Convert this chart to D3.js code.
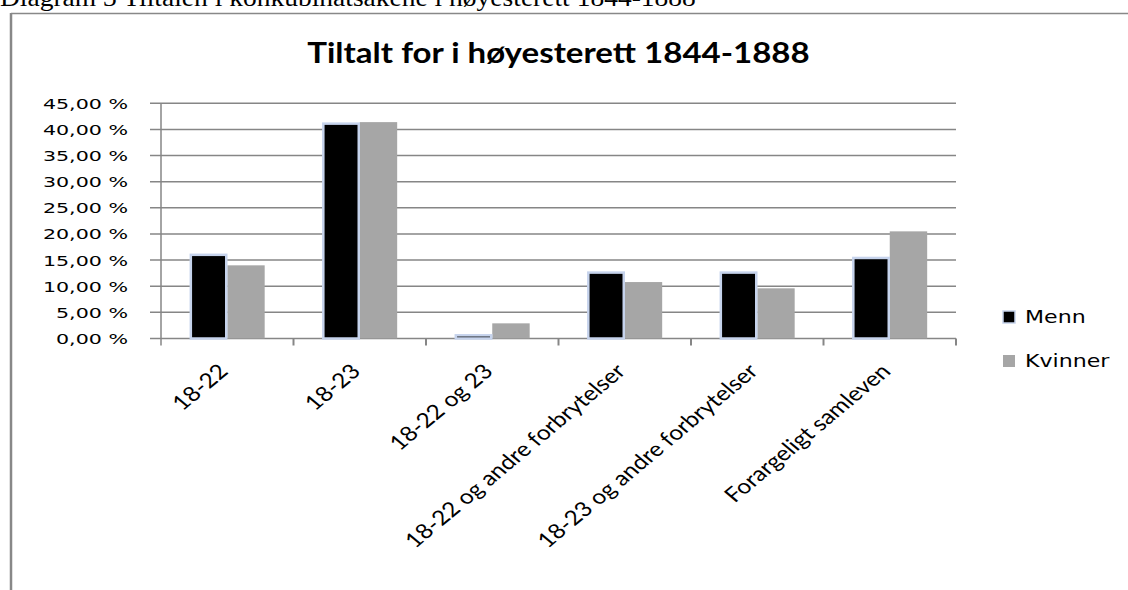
<!DOCTYPE html>
<html>
<head>
<meta charset="utf-8">
<script src="https://cdn.jsdelivr.net/npm/d3@7"></script>
<style>
    body { margin: 0; background: #fff; }
    svg { display: block; }
</style>
</head>
<body>
<div id="chart"></div>
<script>
// values
let categories = ["18-22", "18-23", "18-22 og 23", "18-22 og andre forbrytelser", "18-23 og andre forbrytelser", "Forargeligt samleven"];
let menn = [16.2, 41.3, 0.8, 12.8, 12.8, 15.6];
let kvinner = [14.0, 41.4, 2.9, 10.8, 9.6, 20.5];
let seriesNames = ["Menn", "Kvinner"];
let yTicks = [0, 5, 10, 15, 20, 25, 30, 35, 40, 45];

/** Grouped bar chart, Excel style (the pasted picture is stretched sideways). */
class BarChart {

    constructor() {
        this.width = 1128;
        this.height = 590;
        this.plot = { left: 161, right: 956, top: 103.3, bottom: 338.5 };
        this.drawChart();
    }

    // stretch a text horizontally, the reference text is wider than the plain fonts
    stretch(selection, factor) {
        selection.each(function() {
            d3.select(this).attr("textLength", this.getComputedTextLength() * factor).attr("lengthAdjust", "spacingAndGlyphs");
        });
    }

    drawChart() {
        let svg = d3.select("#chart").append("svg").attr("width", this.width).attr("height", this.height);
        let p = this.plot;

        // page caption above the frame, cut off at the top like in the document
        let caption = svg.append("text").attr("x", 0).attr("y", 6).text("Diagram 3 Tiltalen i konkubinatsakene i høyesterett 1844-1888")
            .style("font-family", "'Liberation Serif', serif").style("font-size", "25px").style("fill", "#000");
        this.stretch(caption, 1.1);

        // frame
        svg.append("line").attr("x1", 11).attr("x2", this.width).attr("y1", 13.5).attr("y2", 13.5).style("stroke", "#888").style("stroke-width", 1.5);
        svg.append("line").attr("x1", 11).attr("x2", 11).attr("y1", 13).attr("y2", this.height).style("stroke", "#888").style("stroke-width", 2.5);

        let title = svg.append("text").attr("x", (p.left + p.right) / 2).attr("y", 63).attr("text-anchor", "middle").text("Tiltalt for i høyesterett 1844-1888")
            .style("font-family", "Lato, sans-serif").style("font-weight", "bold").style("font-size", "28px").style("fill", "#000");
        this.stretch(title, 1.18);

        let x = d3.scaleBand().domain(categories).range([p.left, p.right]);
        let xInner = d3.scaleBand().domain(seriesNames).range([0, x.bandwidth()]).paddingOuter(0.77);
        let y = d3.scaleLinear().domain([0, 45]).range([p.bottom, p.top]);

        // gridlines and value labels
        let grid = svg.append("g");
        grid.selectAll("line").data(yTicks).join("line")
            .attr("x1", p.left - 11).attr("x2", p.right).attr("y1", d => y(d)).attr("y2", d => y(d))
            .style("stroke", "#868686").style("stroke-width", 1.5);

        let yLabels = svg.append("g").selectAll("text").data(yTicks).join("text")
            .attr("x", 128).attr("y", d => y(d) + 5.5).attr("text-anchor", "end")
            .text(d => d3.format(".2f")(d).replace(".", ",") + " %")
            .style("font-family", "'DejaVu Sans', sans-serif").style("font-size", "14.5px").style("fill", "#000");
        this.stretch(yLabels, 1.42);

        // axes lines
        svg.append("line").attr("x1", p.left).attr("x2", p.left).attr("y1", p.top).attr("y2", p.bottom + 7).style("stroke", "#868686").style("stroke-width", 1.5);
        let boundaries = categories.map(c => x(c)).concat([p.right]);
        svg.append("g").selectAll("line").data(boundaries.slice(1)).join("line")
            .attr("x1", d => d).attr("x2", d => d).attr("y1", p.bottom).attr("y2", p.bottom + 7)
            .style("stroke", "#868686").style("stroke-width", 2);

        // bars
        let groups = svg.append("g").selectAll("g").data(categories).join("g")
            .attr("transform", d => "translate(" + x(d) + ",0)");
        groups.append("rect").attr("x", xInner("Kvinner")).attr("width", xInner.bandwidth())
            .attr("y", (d, i) => y(kvinner[i])).attr("height", (d, i) => p.bottom - y(kvinner[i]))
            .style("fill", "#a6a6a6");
        groups.append("rect").attr("x", xInner("Menn") + 1).attr("width", xInner.bandwidth() - 2)
            .attr("y", (d, i) => y(menn[i]) + 1).attr("height", (d, i) => p.bottom - y(menn[i]) - 1)
            .style("fill", "#000").style("stroke", "#c6d3ec").style("stroke-width", 2.5);

        // category labels, rotated 45 degrees and then widened like the rest of the picture
        svg.append("g").selectAll("text").data(categories).join("text")
            .attr("transform", d => "translate(" + (x(d) + x.bandwidth() / 2 - 4) + "," + (p.bottom + 29) + ") scale(1.2,1) rotate(-45)")
            .attr("text-anchor", "end").attr("dy", "0.35em").text(d => d)
            .style("font-family", "Lato, sans-serif").style("font-size", "20.5px").style("fill", "#000");

        // legend
        let legend = svg.append("g").selectAll("g").data(seriesNames).join("g")
            .attr("transform", (d, i) => "translate(1003," + (311 + i * 44) + ")");
        legend.append("rect").attr("width", 12).attr("height", 12)
            .style("fill", d => d === "Menn" ? "#000" : "#a6a6a6")
            .style("stroke", d => d === "Menn" ? "#c6d3ec" : "none").style("stroke-width", 1.5);
        let legendText = legend.append("text").attr("x", 22).attr("y", 12).text(d => d)
            .style("font-family", "'DejaVu Sans', sans-serif").style("font-size", "17px").style("fill", "#000");
        this.stretch(legendText, 1.3);
    }
}

new BarChart();
</script>
</body>
</html>
